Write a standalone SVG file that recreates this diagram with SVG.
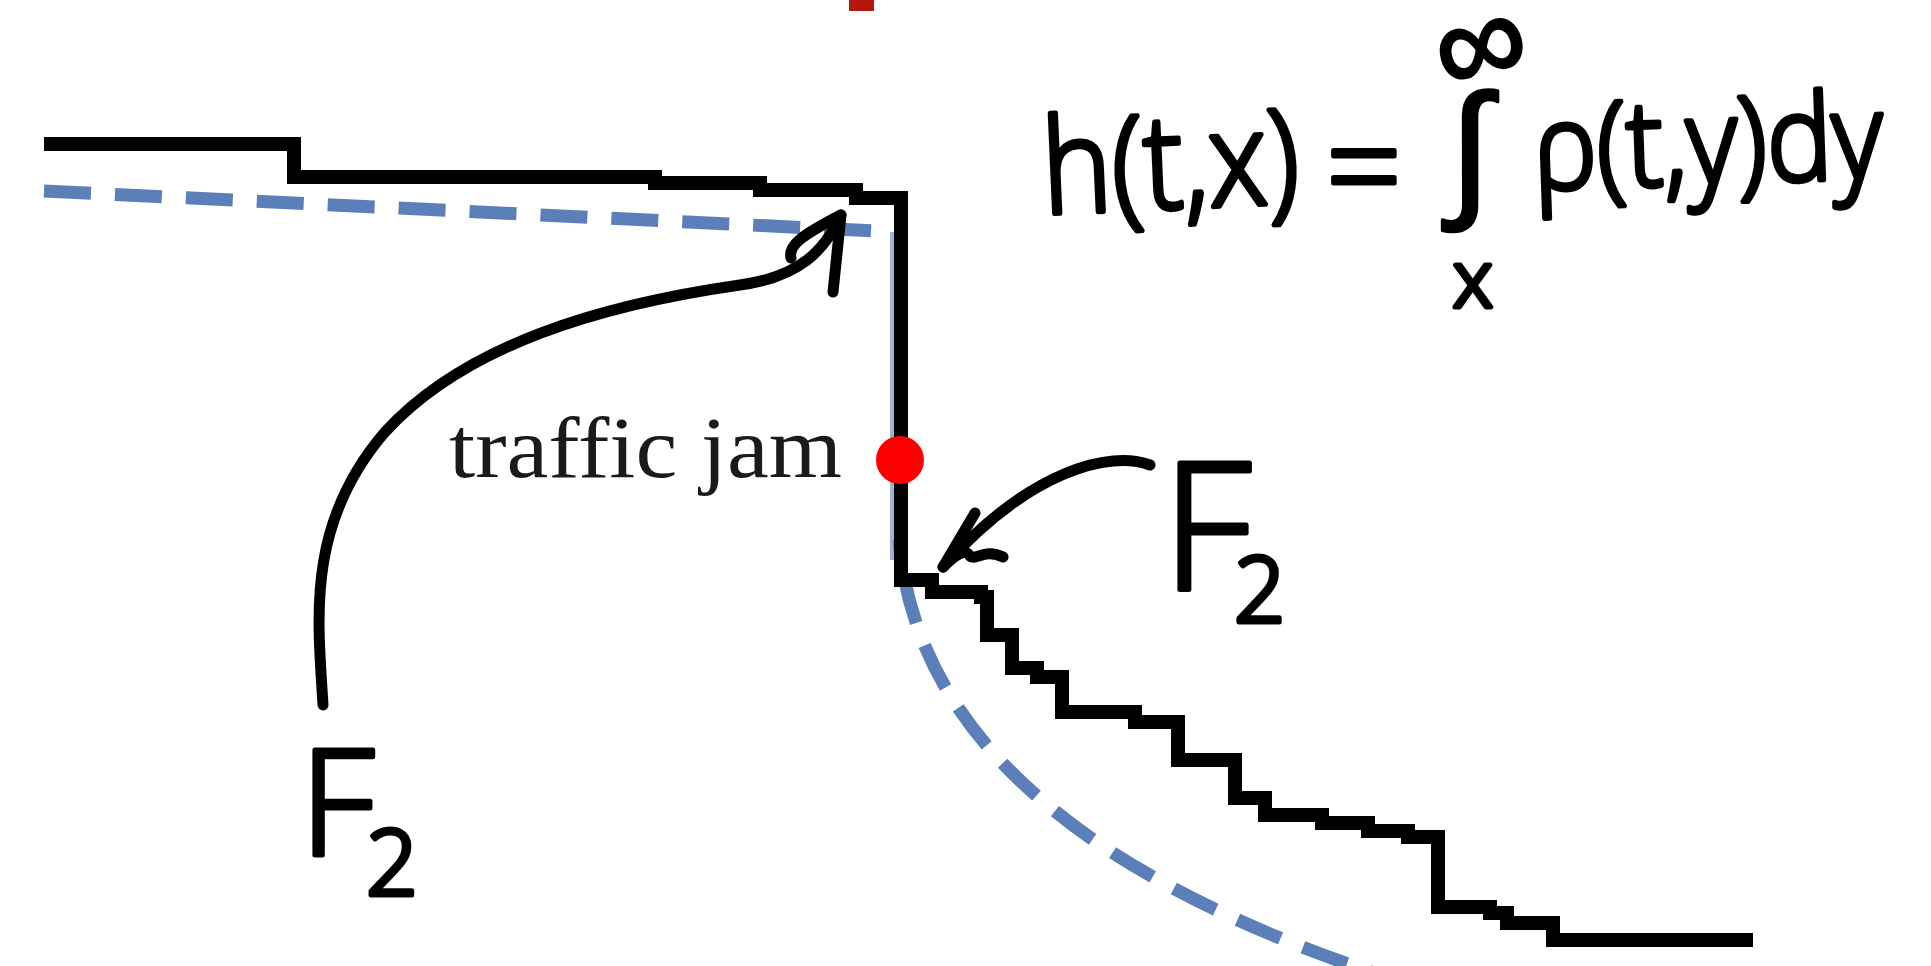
<svg xmlns="http://www.w3.org/2000/svg" width="1931" height="966" viewBox="0 0 1931 966">
<style>
.blue{fill:none;stroke:#5b80b9;stroke-width:13;stroke-dasharray:47 24}
.stair{fill:none;stroke:#000;stroke-width:14;stroke-linejoin:miter}
.pen{fill:none;stroke:#000;stroke-width:11;stroke-linecap:round;stroke-linejoin:round}
.hw{font-family:"Open Sans","DejaVu Sans",sans-serif;font-weight:300;fill:#000;stroke:#000;stroke-width:5;stroke-linejoin:round}
.sym{font-family:"DejaVu Sans",sans-serif;font-weight:200;fill:#000;stroke:#000;stroke-width:3;stroke-linejoin:round}
.lbl{font-family:"Liberation Serif","DejaVu Serif",serif;fill:#1a1a1a}
</style>
<rect width="1931" height="966" fill="#fff"/>
<rect id="marker-red" x="849" y="0" width="25" height="11" fill="#b5170a"/>
<g id="equilibrium-curve">
<path class="blue" d="M44 191 L896 232"/>
<path d="M893 232 V560" fill="none" stroke="#5b80b9" stroke-width="6" opacity="0.6"/>
<path class="blue" style="stroke-dashoffset:33" d="M899 540 C915 725 1065 870 1380 975"/>
</g>
<g id="staircase">
<path class="stair" d="M44 144 H294 V177 H655 V183 H760 V190 H856 V198 H901 V580 H932 V592 H981 V597 H987 V635 H1012 V668 H1037 V677 H1062 V712 H1135 V722 H1178 V760 H1235 V798 H1265 V815 H1322 V823 H1368 V831 H1408 V837 H1438 V907 H1490 V913 H1507 V923 H1553 V940 H1753"/>
</g>
<g id="traffic-jam">
<circle cx="900" cy="460" r="24" fill="#ff0000"/>
<text class="lbl" x="449" y="477" font-size="86" textLength="393" lengthAdjust="spacingAndGlyphs">traffic jam</text>
</g>
<g id="connectors">
<path class="pen" d="M323 705 C318 620 305 525 385 432 C465 345 600 305 740 285 C800 277 825 250 841 215"/>
<path class="pen" d="M841 215 L833 292 M791 258 C788 246 800 236 841 215"/>
<path class="pen" d="M1150 465 C1110 450 1030 470 943 567"/>
<path class="pen" d="M975 513 L943 567 C955 555 965 548 970 556 C975 561 985 548 1003 557"/>
</g>
<g id="label-F2-left">
<text class="hw" x="300" y="855" font-size="148">F</text>
<text class="hw" x="366" y="895" font-size="91">2</text>
</g>
<g id="label-F2-right">
<text class="hw" x="1162" y="590" font-size="178">F</text>
<text class="hw" x="1234" y="622" font-size="90">2</text>
</g>
<g id="formula">
<text class="hw" x="1044" y="214" font-size="132" textLength="257" lengthAdjust="spacingAndGlyphs" transform="rotate(-2.5 1044 214)">h(t,x)</text>
<text class="hw" x="1364" y="214" font-size="132" text-anchor="middle">=</text>
<text class="sym" x="1470" y="200" font-size="150" text-anchor="middle">∫</text>
<text class="sym" x="1481" y="86" font-size="128" text-anchor="middle" transform="rotate(-15 1481 48)">∞</text>
<text class="hw" x="1473" y="307" font-size="80" text-anchor="middle">x</text>
<text class="hw" x="1534" y="190" font-size="120" textLength="350" lengthAdjust="spacingAndGlyphs" transform="rotate(-2 1534 190)">ρ(t,y)dy</text>
</g>
</svg>
